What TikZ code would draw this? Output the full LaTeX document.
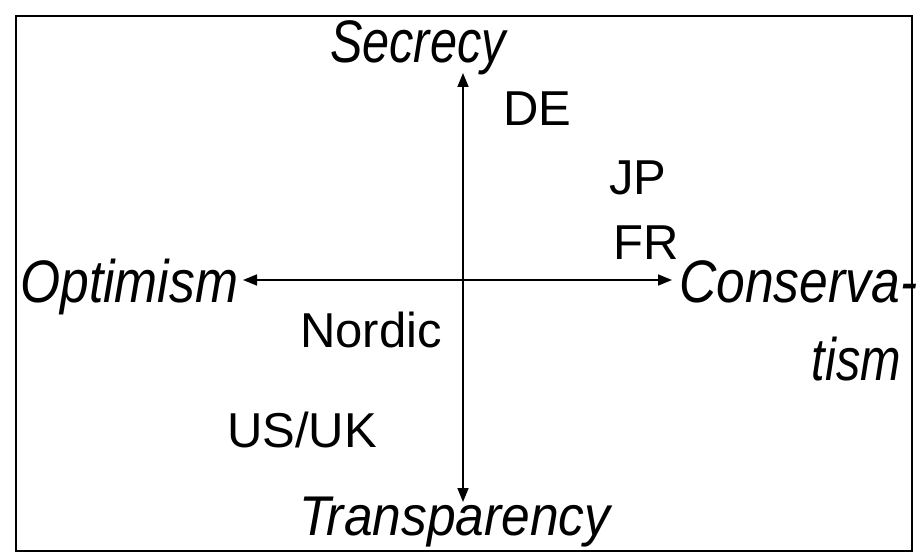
\documentclass[tikz,border=0pt]{standalone}
\usepackage{fontspec}
\setmainfont{Liberation Sans}
\newfontfamily\narrowit{Liberation Sans}[FakeStretch=0.81]
\newfontfamily\midit{Liberation Sans}[FakeStretch=0.86]
\newfontfamily\halfnarrowit{Liberation Sans}[FakeStretch=0.92]
\usepackage{tikz}
\usetikzlibrary{arrows.meta}

\begin{document}
\begin{tikzpicture}[
  x=1pt, y=-1pt,
  axis/.style={{Triangle[length=14pt,width=11pt]}-{Triangle[length=14pt,width=11pt]},line width=1.7pt},
  pole/.style={inner sep=0pt,font=\narrowit\fontsize{60}{77}\selectfont\itshape},
  land/.style={inner sep=0pt,anchor=base west,font=\fontsize{49}{60}\selectfont}
]
\useasboundingbox (0,0) rectangle (919,556);
\draw[line width=1.7pt] (16,16) rectangle (912,551);

% the two poles of each axis
\node[pole,anchor=base west] (sec) at (330,63) {Secrecy};
\node[pole,anchor=base west,font=\halfnarrowit\fontsize{56}{70}\selectfont\itshape] (tra) at (299,535) {Transparency};
\node[pole,anchor=base west,font=\midit\fontsize{60}{77}\selectfont\itshape] (opt) at (20,303) {Optimism};
\node[pole,anchor=base west,font=\midit\fontsize{60}{77}\selectfont\itshape] (con) at (679,303) {Conserva-};
\node[pole,anchor=base east] (tis) at (901,380) {tism};

\coordinate (top) at (463,73);
\coordinate (bot) at (463,502);
\coordinate (lft) at (243,280);
\coordinate (rgt) at (672,280);

% countries
\node[land] (de) at (503,126) {DE};
\node[land] (jp) at (609,195) {JP};
\node[land] (fr) at (613,260) {FR};
\node[land] (nor) at (300,348) {Nordic};
\node[land] (us) at (227,447) {US/UK};

\draw[axis](bot)--(top);
\draw[axis](lft)--(rgt);
\end{tikzpicture}
\end{document}
